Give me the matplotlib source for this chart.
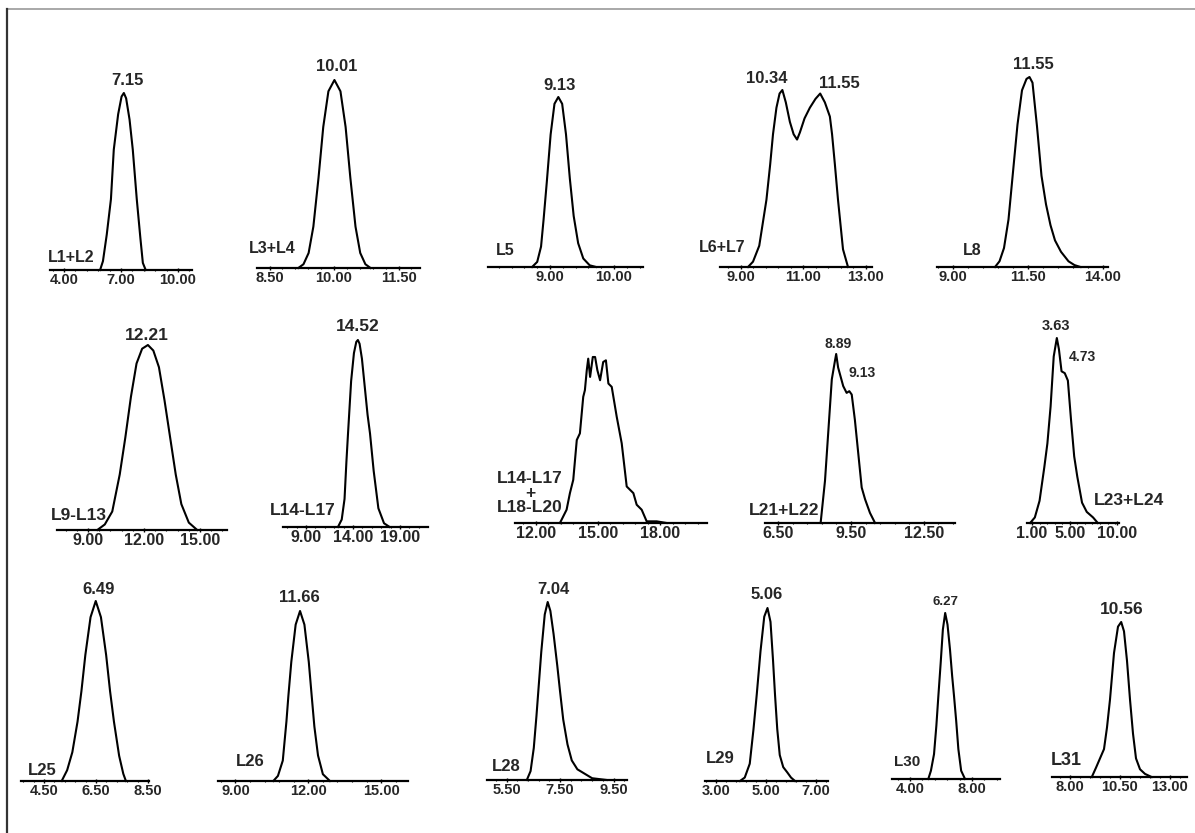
"""Grid of sixteen elution peaks, one small panel per fraction."""

import matplotlib

matplotlib.use("Agg", force=True)

import matplotlib.pyplot as plt
import numpy as np
from matplotlib.lines import Line2D
from matplotlib.ticker import AutoMinorLocator, FixedLocator, FormatStrFormatter

plt.rcParams["font.family"] = ["Liberation Sans", "DejaVu Sans"]
plt.rcParams["font.weight"] = "bold"

W, H = 1195, 833
INK = "#262626"

# ---- data ----------------------------------------------------------------

names = ["L1+L2", "L3+L4", "L5", "L6+L7", "L8",
         "L9-L13", "L14-L17", "L14-L17\n+\nL18-L20", "L21+L22", "L23+L24",
         "L25", "L26", "L28", "L29", "L30", "L31"]

ticks = [[4, 7, 10], [8.5, 10, 11.5], [8, 9, 10], [9, 11, 13], [9, 11.5, 14],
         [9, 12, 15], [9, 14, 19], [12, 15, 18], [6.5, 9.5, 12.5], [1, 5, 10],
         [4.5, 6.5, 8.5], [9, 12, 15], [5.5, 7.5, 9.5], [3, 5, 7], [4, 8],
         [8, 10.5, 13]]

peaks = [[7.15], [10.01], [9.13], [10.34, 11.55], [11.55],
         [12.21], [14.52], [], [8.89, 9.13], [3.63, 4.73],
         [6.49], [11.66], [7.04], [5.06], [6.27], [10.56]]

# retention value / relative intensity (%) of each trace
rt_01 = [5.90, 6.05, 6.25, 6.47, 6.62, 6.85, 7.03, 7.15, 7.27, 7.45, 7.62, 7.83, 8.02, 8.15, 8.30]
ab_01 = [0, 5, 20, 40, 68, 88, 98, 100, 97, 85, 68, 40, 18, 4, 0]
rt_02 = [9.17, 9.29, 9.41, 9.52, 9.64, 9.75, 9.87, 10.01, 10.15, 10.27, 10.38, 10.50, 10.61, 10.73, 10.85]
ab_02 = [0, 2, 8, 22, 48, 75, 94, 100, 94, 75, 48, 22, 8, 2, 0]
rt_03 = [8.72, 8.80, 8.86, 8.90, 8.95, 9.01, 9.07, 9.13, 9.19, 9.25, 9.31, 9.37, 9.44, 9.52, 9.62, 9.72]
ab_03 = [0, 3, 12, 28, 50, 78, 96, 100, 96, 78, 52, 30, 14, 5, 1, 0]
rt_04 = [9.24, 9.40, 9.60, 9.83, 9.95, 10.04, 10.15, 10.25, 10.34, 10.45, 10.58, 10.70, 10.81,
         10.90, 11.05, 11.22, 11.40, 11.55, 11.70, 11.86, 11.93, 12.02, 12.12, 12.28, 12.44]
ab_04 = [0, 3, 12, 38, 58, 75, 90, 98, 100, 93, 82, 75, 72,
         76, 84, 90, 95, 98, 93, 85, 75, 58, 38, 10, 0]
rt_05 = [10.40, 10.55, 10.70, 10.85, 11.00, 11.15, 11.30, 11.45, 11.55, 11.65, 11.80, 11.95,
         12.10, 12.25, 12.40, 12.60, 12.85, 13.05, 13.25]
ab_05 = [0, 3, 10, 25, 50, 75, 93, 99, 100, 97, 74, 48, 33, 22, 14, 8, 3, 1, 0]
rt_06 = [9.50, 9.90, 10.30, 10.70, 11.00, 11.30, 11.60, 11.90, 12.21, 12.50, 12.80, 13.10,
         13.40, 13.70, 14.00, 14.40, 14.85]
ab_06 = [0, 3, 10, 30, 50, 72, 90, 98, 100, 97, 88, 70, 50, 30, 14, 4, 0]
rt_07 = [12.40, 12.80, 13.10, 13.30, 13.47, 13.80, 14.10, 14.35, 14.52, 14.70, 14.95, 15.25,
         15.55, 15.81, 16.20, 16.70, 17.30, 17.90]
ab_07 = [0, 4, 15, 35, 50, 78, 93, 99, 100, 98, 90, 75, 60, 50, 30, 10, 2, 0]
rt_08 = [13.17, 13.49, 13.65, 13.81, 13.98, 14.13, 14.29, 14.37, 14.46, 14.53, 14.62, 14.75,
         14.86, 14.97, 15.10, 15.25, 15.38, 15.50, 15.66, 15.90, 16.14, 16.38, 16.70, 16.86,
         17.10, 17.34, 17.82, 18.30]
ab_08 = [0, 8, 18, 26, 50, 54, 76, 80, 92, 99, 88, 100,
         100, 92, 86, 97, 98, 84, 82, 64, 48, 22, 18, 11,
         8, 1, 1, 0]
rt_09 = [8.25, 8.43, 8.57, 8.71, 8.84, 8.89, 8.97, 9.18, 9.32, 9.43, 9.53, 9.66, 9.80, 9.94,
         10.08, 10.28, 10.49]
ab_09 = [0, 25, 55, 85, 96, 100, 92, 81, 77, 78, 76, 61, 41, 21, 14, 6, 0]
rt_10 = [0.80, 1.30, 1.80, 2.30, 2.63, 2.97, 3.30, 3.63, 3.85, 4.13, 4.47, 4.80, 5.13, 5.47,
         5.80, 6.30, 6.80, 7.47, 7.97]
ab_10 = [0, 3, 12, 30, 43, 63, 90, 100, 94, 82, 81, 77, 56, 36, 25, 11, 6, 3, 0]
rt_11 = [5.18, 5.39, 5.59, 5.79, 5.94, 6.09, 6.29, 6.49, 6.69, 6.89, 7.04, 7.19, 7.39, 7.55, 7.65]
ab_11 = [0, 6, 16, 33, 50, 70, 91, 100, 91, 70, 50, 33, 14, 4, 0]
rt_12 = [10.56, 10.75, 10.95, 11.10, 11.18, 11.30, 11.48, 11.66, 11.84, 12.02, 12.14, 12.25,
         12.40, 12.60, 12.89]
ab_12 = [0, 3, 12, 35, 50, 70, 92, 100, 92, 70, 50, 32, 15, 4, 0]
rt_13 = [6.26, 6.40, 6.52, 6.62, 6.69, 6.80, 6.93, 7.04, 7.14, 7.26, 7.40, 7.50, 7.62, 7.78,
         7.94, 8.15, 8.37, 8.70, 9.25]
ab_13 = [0, 5, 18, 36, 50, 72, 93, 100, 95, 82, 64, 50, 34, 20, 11, 6, 4, 1, 0]
rt_14 = [3.96, 4.15, 4.35, 4.50, 4.63, 4.78, 4.93, 5.06, 5.18, 5.28, 5.36, 5.45, 5.55, 5.69,
         5.85, 6.00, 6.16]
ab_14 = [0, 2, 10, 30, 50, 75, 95, 100, 92, 70, 50, 30, 15, 8, 5, 2, 0]
rt_15 = [5.18, 5.35, 5.55, 5.70, 5.83, 5.98, 6.12, 6.27, 6.42, 6.58, 6.72, 6.84, 6.98, 7.12,
         7.30, 7.55]
ab_15 = [0, 5, 15, 32, 50, 70, 90, 100, 93, 78, 62, 50, 35, 18, 5, 0]
rt_16 = [9.09, 9.30, 9.50, 9.70, 9.85, 10.00, 10.20, 10.40, 10.56, 10.70, 10.85, 11.00, 11.15,
         11.30, 11.50, 11.75, 12.08]
ab_16 = [0, 6, 12, 18, 32, 50, 80, 97, 100, 94, 75, 50, 28, 12, 5, 2, 0]

traces = [(rt_01, ab_01), (rt_02, ab_02), (rt_03, ab_03), (rt_04, ab_04), (rt_05, ab_05),
          (rt_06, ab_06), (rt_07, ab_07), (rt_08, ab_08), (rt_09, ab_09), (rt_10, ab_10),
          (rt_11, ab_11), (rt_12, ab_12), (rt_13, ab_13), (rt_14, ab_14), (rt_15, ab_15),
          (rt_16, ab_16)]

# ---- layout (pixels) -----------------------------------------------------
# x0, x1, baseline y, reference px, reference value, px per unit, peak height
layout = [
    (50, 192, 270, 121, 7.0, 19.0, 177),
    (257, 420, 268, 334, 10.0, 43.0, 188),
    (488, 643, 267, 550, 9.0, 64.0, 170),
    (720, 872, 267, 803, 11.0, 31.25, 177),
    (937, 1108, 267, 1028, 11.5, 30.0, 190),
    (57, 227, 530, 144, 12.0, 18.67, 185),
    (283, 428, 527, 353, 14.0, 9.4, 187),
    (515, 707, 523, 598, 15.0, 20.8, 166),
    (765, 955, 523, 851, 9.5, 24.3, 169),
    (1027, 1119, 523, 1032, 1.0, 9.44, 185),
    (21, 149, 781, 96, 6.5, 26.0, 180),
    (218, 408, 781, 308.3, 12.0, 24.3, 170),
    (487, 627, 780, 560, 7.5, 26.75, 178),
    (705, 828, 781, 766, 5.0, 25.0, 173),
    (892, 1000, 779, 910, 4.0, 15.5, 166),
    (1052, 1187, 777, 1120, 10.5, 20.0, 155),
]

# peak-label offsets (dx, dy in px) and font size
peak_style = [
    [(4, 5, 12)], [(2, 6, 12)], [(1, 4, 12)], [(-16, 4, 12), (19, 3, 12)], [(4, 5, 12)],
    [(-1, 2, 12.5)], [(0, 6, 12.5)], [], [(2, 3, 10), (20, 2, 10)], [(-1, 5, 10.5), (15, 15, 10)],
    [(3, 4, 12)], [(-1, 6, 12)], [(6, 5, 12)], [(-1, 6, 12)], [(0, 5, 9.5), ], [(0, 5, 12.5)],
]

# name label: centre x, bottom y (px), font size
name_pos = [
    (71, 265, 11.5), (272, 256, 11.5), (505, 258, 11.5), (722, 255, 11.5), (972, 258, 11.5),
    (79, 523, 12.5), (303, 518, 12.5), (530, 515, 12.5), (784, 518, 12.5), (1129, 508, 12.5),
    (42, 778, 12), (250, 769, 12), (506, 774, 12), (720, 766, 12), (907, 769, 11), (1066, 769, 13),
]

tick_size = [10.5] * 5 + [11.5] * 5 + [10.5] * 6

fig = plt.figure(figsize=(W / 100, H / 100), dpi=100, facecolor="white")

# page frame: grey top rule and dark left rule
fig.add_artist(Line2D([7 / W, 1], [1 - 9 / H] * 2, color="#9a9a9a", lw=1.2))
fig.add_artist(Line2D([7 / W] * 2, [0, 1 - 9 / H], color="#333333", lw=1.6))

for i, (x0, x1, yb, rpx, rval, ppu, hp) in enumerate(layout):
    ax = fig.add_axes([x0 / W, 1 - yb / H, (x1 - x0) / W, hp / H])
    ax.set_xlim(rval + (x0 - rpx) / ppu, rval + (x1 - rpx) / ppu)
    ax.set_ylim(0, 100)
    ax.patch.set_visible(False)
    for side in ("top", "right", "left"):
        ax.spines[side].set_visible(False)
    ax.spines["bottom"].set_linewidth(1.6)
    ax.spines["bottom"].set_color("black")
    ax.set_yticks([])

    ax.xaxis.set_major_locator(FixedLocator(ticks[i]))
    ax.xaxis.set_major_formatter(FormatStrFormatter("%.2f"))
    ax.xaxis.set_minor_locator(AutoMinorLocator(5))
    ax.tick_params(axis="x", which="major", direction="inout", length=3, width=1,
                   pad=1.0, labelsize=tick_size[i], labelcolor=INK)
    ax.tick_params(axis="x", which="minor", direction="inout", length=2, width=0.8)

    rt, ab = traces[i]
    ax.plot(rt, ab, color="black", lw=1.5, clip_on=False, solid_joinstyle="round")

    for val, (dx, dy, fs) in zip(peaks[i], peak_style[i]):
        ax.annotate(f"{val:.2f}", xy=(val, np.interp(val, rt, ab)),
                    xytext=(dx, dy), textcoords="offset pixels",
                    ha="center", va="bottom", fontsize=fs, fontweight="bold",
                    color=INK, annotation_clip=False)

    nx, ny, nfs = name_pos[i]
    fig.text(nx / W, 1 - ny / H, names[i], ha="center", va="bottom",
             fontsize=nfs, fontweight="bold", color=INK,
             linespacing=0.95, multialignment="center")

fig.savefig("out.png", dpi=100, facecolor="white")
